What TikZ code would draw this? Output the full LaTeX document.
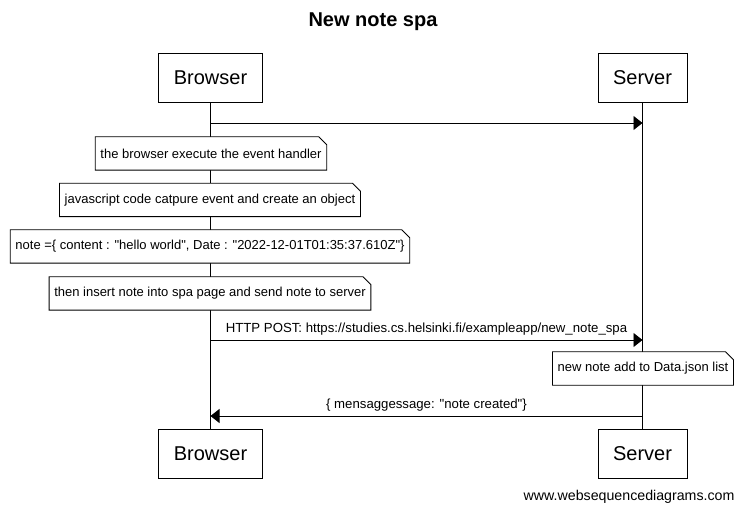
\documentclass[tikz,border=0pt]{standalone}
\usepackage{fontspec}
\setmainfont{Liberation Sans}
\usetikzlibrary{arrows.meta}
\newcommand\dq{\textquotedbl}
\begin{document}
\begin{tikzpicture}[x=1pt,y=-1pt,
  actor/.style={draw, line width=0.9pt, fill=white, minimum height=49pt, inner xsep=15pt,
    font=\fontsize{20}{24}\selectfont},
  lifeline/.style={line width=0.9pt},
  msg/.style={line width=0.9pt, -{Triangle[length=9pt,width=14pt]}},
  msglabel/.style={font=\fontsize{13.2}{15}\selectfont, inner sep=0pt, anchor=base},
  notebody/.style={draw=none, fill=white, minimum height=33pt, inner xsep=5pt,
    font=\fontsize{13}{15}\selectfont},
  noteline/.style={line width=0.9pt}
]
\useasboundingbox (0,0) rectangle (745,513);
% note outline with a cut top-right corner
\newcommand\notefold[1]{%
  \draw[noteline,fill=white] (#1.south west) -- (#1.north west)
    -- ([xshift=-8pt]#1.north east) -- ([yshift=-8pt]#1.north east)
    -- (#1.south east) -- cycle;}

% title
\node[font=\bfseries\fontsize{20}{24}\selectfont] (title) at (373,22) {New note spa};

% participants
\node[actor, minimum width=103pt] (bt) at (210.5,77.5) {Browser};
\node[actor, minimum width=89pt] (st) at (642.5,77.5) {Server};
\node[actor, minimum width=103pt] (bb) at (210.5,454) {Browser};
\node[actor, minimum width=89pt] (sb) at (642.5,454) {Server};

% lifelines
\draw[lifeline] (bt.south) -- (bb.north);
\draw[lifeline] (st.south) -- (sb.north);

% message end points on the lifelines
\coordinate (b1) at (bt.south |- 0,123);
\coordinate (s1) at (st.south |- 0,123);
\coordinate (b2) at (bt.south |- 0,340);
\coordinate (s2) at (st.south |- 0,340);
\coordinate (b3) at (bt.south |- 0,416);
\coordinate (s3) at (st.south |- 0,416);

\draw[msg] (b1) -- (s1);

% notes on the browser side
\node[notebody] (n1) at (211,153.5) {the browser execute the event handler};
\notefold{n1}
\node at (n1) [notebody, fill=none] {the browser execute the event handler};
\node[notebody] (n2) at (210,200) {javascript code catpure event and create an object};
\notefold{n2}
\node at (n2) [notebody, fill=none] {javascript code catpure event and create an object};
\node[notebody] (n3) at (210,246.5) {note =\{ content : \dq hello world\dq, Date : \dq 2022-12-01T01:35:37.610Z\dq\}};
\notefold{n3}
\node at (n3) [notebody, fill=none] {note =\{ content : \dq hello world\dq, Date : \dq 2022-12-01T01:35:37.610Z\dq\}};
\node[notebody] (n4) at (210,293.5) {then insert note into spa page and send note to server};
\notefold{n4}
\node at (n4) [notebody, fill=none] {then insert note into spa page and send note to server};

% request
\draw[msg] (b2) -- node[msglabel, above=4pt] (l2) {HTTP POST: https://studies.cs.helsinki.fi/exampleapp/new\_note\_spa} (s2);

% note on the server side
\node[notebody] (n5) at (643,368.5) {new note add to Data.json list};
\notefold{n5}
\node at (n5) [notebody, fill=none] {new note add to Data.json list};

% response
\draw[msg] (s3) -- node[msglabel, above=4pt] (l3) {\{ mensaggessage: \dq note created\dq\}} (b3);

% footer
\node[font=\fontsize{14.2}{17}\selectfont, anchor=east] (foot) at (738,497) {www.websequencediagrams.com};
\end{tikzpicture}
\end{document}
